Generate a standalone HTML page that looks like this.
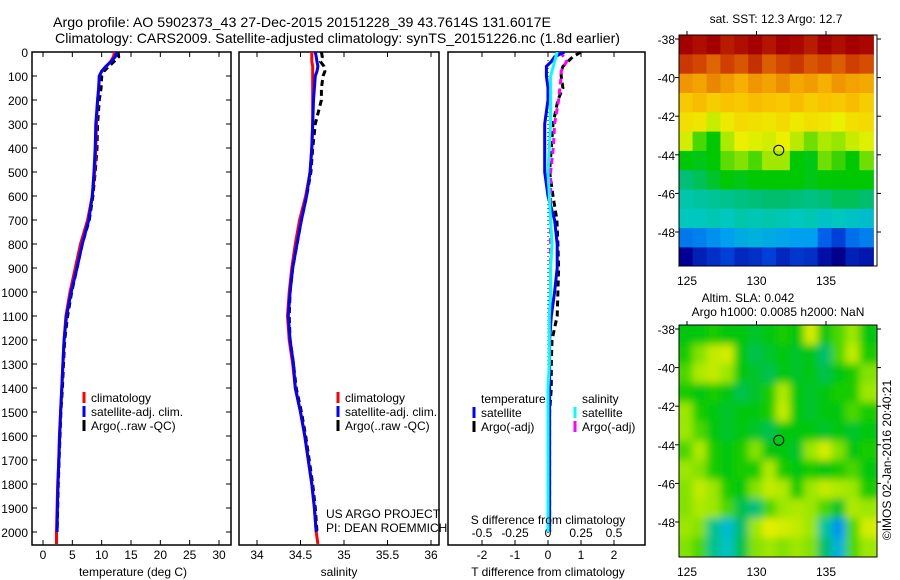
<!DOCTYPE html>
<html><head><meta charset="utf-8"><style>
html,body{margin:0;padding:0;background:#fff;width:900px;height:580px;overflow:hidden}
svg{display:block;font-family:"Liberation Sans",sans-serif}
</style></head><body>
<svg id="fig" xmlns="http://www.w3.org/2000/svg" width="900" height="580" viewBox="0 0 900 580">
<defs>
<filter id="blur" x="-5%" y="-5%" width="110%" height="110%"><feGaussianBlur stdDeviation="4"/></filter>
<clipPath id="slaclip"><rect x="679" y="325" width="198" height="232"/></clipPath>
</defs>
<text x="53" y="27" font-size="14" textLength="498" lengthAdjust="spacingAndGlyphs">Argo profile: AO 5902373_43 27-Dec-2015 20151228_39 43.7614S 131.6017E</text>
<text x="55" y="43" font-size="14" textLength="565" lengthAdjust="spacingAndGlyphs">Climatology: CARS2009. Satellite-adjusted climatology: synTS_20151226.nc (1.8d earlier)</text>
<g id="g"></g>
</svg>
<script>
// ---------- data ----------
const depths = [0,20,40,60,80,100,150,200,300,400,500,600,700,800,900,1000,1100,1200,1300,1400,1500,1600,1700,1800,1900,2000,2050];
const tempClim = [12.2,12.0,11.5,10.8,10.0,9.6,9.5,9.3,9.1,9.0,8.8,8.4,7.6,6.4,5.5,4.6,3.9,3.6,3.4,3.2,3.0,2.8,2.7,2.5,2.4,2.3,2.3];
const tempSat  = [12.6,12.3,11.6,10.7,10.0,9.6,9.5,9.3,9.0,8.9,8.7,8.4,7.8,6.7,5.8,4.8,4.0,3.6,3.4,3.2,3.0,2.85,2.7,2.55,2.45,2.4,null];
const tempArgo = [12.8,12.9,12.1,11.2,10.4,10.0,9.9,9.6,9.3,9.2,8.9,8.5,7.9,6.7,5.8,4.9,4.2,3.7,3.5,3.3,3.05,2.9,2.75,2.6,2.5,2.4,null];
const salClim = [34.63,34.63,34.63,34.64,34.64,34.64,34.64,34.64,34.64,34.63,34.61,34.56,34.49,34.44,34.40,34.37,34.35,34.37,34.41,34.44,34.50,34.55,34.59,34.63,34.66,34.68,34.70];
const salSat  = [34.67,34.68,34.69,34.70,34.69,34.67,34.66,34.65,34.64,34.63,34.61,34.57,34.51,34.46,34.41,34.38,34.36,34.38,34.42,34.44,34.50,34.55,34.59,34.63,34.66,34.68,null];
const salArgo = [34.74,34.75,34.73,34.77,34.78,34.76,34.74,34.74,34.67,34.64,34.62,34.57,34.51,34.46,34.41,34.38,34.37,34.38,34.42,34.45,34.51,34.56,34.60,34.64,34.67,34.69,null];
const dTsat  = [0.5,0.2,0.1,-0.05,-0.05,-0.05,0,0,-0.1,-0.1,-0.1,0,0.2,0.28,0.28,0.2,0.1,0.05,0.05,0.05,0.05,0.05,0.05,0.05,0.05,0.05,null];
const dTargo = [1.0,0.75,0.6,0.45,0.4,0.4,0.45,0.3,0.15,0.1,0.05,0.15,0.27,0.3,0.32,0.3,0.28,0.12,0.1,0.1,0.05,0.05,0.05,0.05,0.05,0.05,null];
const dSsat  = [0.07,0.06,0.05,0.04,0.03,0.02,0.02,0.02,0.02,0.01,0.0,0.01,0.02,0.03,0.02,0.02,0.01,0.01,0.01,0.0,0.0,0.0,0.0,0.0,0.0,0.0,null];
const dSargo = [0.09,0.12,0.14,0.12,0.1,0.1,0.09,0.08,0.05,0.04,0.02,0.02,0.02,0.02,0.02,0.02,0.01,0.01,0.01,0.01,0.01,0.01,0.01,0.01,0.01,0.01,null];
const depthTicks = [0,100,200,300,400,500,600,700,800,900,1000,1100,1200,1300,1400,1500,1600,1700,1800,1900,2000];
const tempTicks = [0,5,10,15,20,25,30];
const salTicks = [34,34.5,35,35.5,36];
const salTickLabels = ["34","34.5","35","35.5","36"];
const dTTicks = [-2,-1,0,1,2];
const dSTickLabels = ["-0.5","-0.25","0","0.25","0.5"];
const lonTicks = [125,130,135];
const latTicks = [-38,-40,-42,-44,-46,-48];
const argoLon = 131.6017, argoLat = -43.7614;
const mapLons = [124.4,125.4,126.4,127.4,128.4,129.4,130.4,131.4,132.4,133.4,134.4,135.4,136.4,137.4]; // cell west edges
const mapLats = [-37.8,-38.8,-39.8,-40.8,-41.8,-42.8,-43.8,-44.8,-45.8,-46.8,-47.8,-48.8]; // cell north edges
const sst = [
 [16,15.8,16,15.6,15.8,16,15.7,16,15.9,15.6,16,15.8,16,15.9],
 [15.2,15,14.6,15.1,14.8,15.3,14.7,15,15.2,14.8,15,14.7,15.1,14.9],
 [14,13.8,14.2,13.9,13.6,14,13.8,14.1,13.7,13.9,13.6,14,13.8,13.7],
 [13.2,13.4,13.1,13.3,13.2,13.4,13.3,13.2,13.4,13.1,13.3,13.2,13.4,13.1],
 [12.8,12.7,12.2,12.6,12.9,12.8,12.7,12.9,12.6,12.8,12.7,12.5,12.8,12.9],
 [12.3,11.4,11.0,12.0,12.5,12.4,12.3,12.5,12.1,11.6,12.0,11.8,12.2,12.4],
 [11.0,10.9,11.0,11.5,11.7,11.4,11.9,11.9,11.0,10.9,11.6,11.3,11.0,11.6],
 [10.4,10.6,10.8,11.0,10.9,11.0,11.0,11.0,11.0,10.9,11.0,11.0,11.0,11.0],
 [9.9,10.0,10.1,10.2,10.3,10.4,10.5,10.5,10.4,10.3,10.4,10.6,10.6,10.5],
 [9.7,9.7,9.8,9.7,9.9,9.8,9.9,9.8,9.7,9.8,9.6,9.7,9.6,9.5],
 [8.5,8.6,8.8,9.0,9.2,9.3,9.2,9.1,9.0,9.0,8.2,7.8,8.4,8.6],
 [7.0,7.4,7.6,7.8,7.5,7.6,7.8,7.5,7.7,7.6,7.2,6.8,7.4,7.3]];
const sla = [
 [-0.03,-0.03,-0.02,-0.03,-0.03,-0.04,-0.03,-0.02,-0.03,0.06,-0.03,0.0,0.03,-0.03],
 [-0.02,0.02,0.05,0.06,-0.03,-0.05,-0.04,-0.03,-0.04,-0.03,-0.06,0.0,0.05,-0.02],
 [0.0,0.04,0.05,0.03,-0.03,-0.04,-0.05,-0.03,-0.04,-0.03,-0.05,-0.03,-0.02,0.02],
 [-0.02,-0.03,-0.02,-0.03,-0.05,-0.04,-0.02,0.04,-0.03,-0.04,-0.03,-0.02,-0.02,0.03],
 [0.03,-0.02,-0.03,-0.04,-0.03,-0.03,-0.02,0.05,-0.03,-0.04,-0.03,-0.03,0.0,-0.02],
 [0.03,0.0,-0.03,-0.04,-0.03,-0.04,-0.05,-0.03,-0.03,-0.03,-0.04,-0.03,-0.04,-0.03],
 [0.0,0.04,-0.02,-0.03,-0.02,0.02,-0.03,-0.03,-0.04,0.03,0.06,0.02,-0.03,-0.02],
 [0.03,0.02,-0.02,-0.03,-0.02,-0.02,0.04,-0.02,-0.03,-0.02,-0.03,-0.02,0.0,-0.03],
 [0.02,0.05,0.03,-0.02,-0.03,0.02,0.05,0.04,-0.02,0.03,0.05,0.04,0.03,-0.02],
 [0.02,0.04,0.03,0.0,-0.05,-0.07,0.0,0.03,0.04,0.03,0.0,-0.04,0.04,0.03],
 [0.03,0.02,-0.08,-0.13,-0.06,0.03,0.07,0.06,0.05,0.03,-0.09,-0.17,0.0,0.06],
 [0.02,0.0,-0.08,-0.12,-0.05,0.02,0.03,0.02,0.03,0.02,-0.06,-0.14,0.0,0.03]];

// ---------- helpers ----------
const NS="http://www.w3.org/2000/svg";
const G=document.getElementById('g');
function mk(tag,attrs,parent,txt){const e=document.createElementNS(NS,tag);for(const k in attrs)e.setAttribute(k,attrs[k]);if(txt!==undefined)e.textContent=txt;(parent||G).appendChild(e);return e;}
const yTop=52, yBot=545;
const yD = d => yTop + d*0.24;
function linScale(v0,p0,v1,p1){return v=>p0+(v-v0)*(p1-p0)/(v1-v0);}
const xT = linScale(0,43,30,219);
const xS = linScale(34,257,36,431);
const xdT = linScale(0,548,2,614);
const xdS = linScale(0,548,0.5,614);

function profile(vals,xs,color,dash,name,clipId){
  let d="";let started=false;
  for(let i=0;i<depths.length;i++){
    if(vals[i]===null)continue;
    d+=(started?"L":"M")+xs(vals[i]).toFixed(1)+" "+yD(depths[i]).toFixed(1)+" ";started=true;
  }
  const p=mk('path',{d:d,fill:'none',stroke:color,'stroke-width':3,'clip-path':'url(#'+clipId+')'});
  if(dash)p.setAttribute('stroke-dasharray',dash);
  
  
}
function panel(x0,x1,clipId,name){
  const defs=mk('defs',{});
  const cp=mk('clipPath',{id:clipId},defs);
  mk('rect',{x:x0,y:yTop,width:x1-x0,height:yBot-yTop},cp);
  const r=mk('rect',{x:x0,y:yTop,width:x1-x0,height:yBot-yTop,fill:'none',stroke:'#000','stroke-width':1.5});
  
  
}
function txt(x,y,s,size,anchor,name,parent){
  const t=mk('text',{x:x,y:y,'font-size':size||12,'text-anchor':anchor||'start'},parent||G,s);
  
  
  return t;
}
function legendEntry(x,y,color,label,name){
  mk('line',{x1:x,y1:y-10,x2:x,y2:y+1,stroke:color,'stroke-width':3});
  txt(x+7,y,label,12,'start',name);
}

// ---------- panel 1: temperature ----------
panel(32,231,'c1','temperature-panel');
for(const d of depthTicks){
  mk('line',{x1:32,y1:yD(d),x2:37,y2:yD(d),stroke:'#000'});
  mk('line',{x1:226,y1:yD(d),x2:231,y2:yD(d),stroke:'#000'});
  txt(28,yD(d)+5,String(d),12,'end','depth-tick-label');
}
for(const t of tempTicks){
  mk('line',{x1:xT(t),y1:yTop,x2:xT(t),y2:yTop+5,stroke:'#000'});
  mk('line',{x1:xT(t),y1:yBot,x2:xT(t),y2:yBot-5,stroke:'#000'});
  txt(xT(t),559,String(t),12,'middle','temperature-tick-label');
}
txt(133,576,'temperature (deg C)',12,'middle','temperature-axis-title');
profile(tempArgo,xT,'#000','6 4','temp-argo-line','c1');
profile(tempClim,xT,'#f00',null,'temp-climatology-line','c1');
profile(tempSat,xT,'#0000ff',null,'temp-satellite-line','c1');
legendEntry(84,402,'#f00','climatology','legend-climatology');
legendEntry(84,416,'#0000ff','satellite-adj. clim.','legend-satellite');
legendEntry(84,430,'#000','Argo(..raw -QC)','legend-argo');

// ---------- panel 2: salinity ----------
panel(239,439,'c2','salinity-panel');
for(let i=0;i<salTicks.length;i++){
  const s=salTicks[i];
  mk('line',{x1:xS(s),y1:yTop,x2:xS(s),y2:yTop+5,stroke:'#000'});
  mk('line',{x1:xS(s),y1:yBot,x2:xS(s),y2:yBot-5,stroke:'#000'});
  txt(xS(s),559,salTickLabels[i],12,'middle','salinity-tick-label');
}
txt(339,576,'salinity',12,'middle','salinity-axis-title');
profile(salArgo,xS,'#000','6 4','sal-argo-line','c2');
profile(salClim,xS,'#f00',null,'sal-climatology-line','c2');
profile(salSat,xS,'#0000ff',null,'sal-satellite-line','c2');
legendEntry(338,402,'#f00','climatology','legend-climatology-2');
legendEntry(338,416,'#0000ff','satellite-adj. clim.','legend-satellite-2');
legendEntry(338,430,'#000','Argo(..raw -QC)','legend-argo-2');
txt(326,518,'US ARGO PROJECT',12,'start','credit-project');
txt(326,532,'PI: DEAN ROEMMICH',12,'start','credit-pi');

// ---------- panel 3: differences ----------
panel(448,645,'c3','difference-panel');
mk('line',{x1:xdT(0),y1:yTop,x2:xdT(0),y2:yBot,stroke:'#000','stroke-dasharray':'1 3'});
for(let i=0;i<dTTicks.length;i++){
  const v=dTTicks[i];
  mk('line',{x1:xdT(v),y1:yTop,x2:xdT(v),y2:yTop+5,stroke:'#000'});
  mk('line',{x1:xdT(v),y1:yBot,x2:xdT(v),y2:yBot-5,stroke:'#000'});
  txt(xdT(v),559,String(v),12,'middle','t-diff-tick-label');
  txt(xdT(v),537,dSTickLabels[i],12,'middle','s-diff-tick-label');
}
txt(548,576,'T difference from climatology',12,'middle','t-diff-axis-title');
profile(dTargo,xdT,'#000','6 4','dt-argo-line','c3');
profile(dSargo,xdS,'#ff00ff','6 4','ds-argo-line','c3');
profile(dTsat,xdT,'#0000ff',null,'dt-satellite-line','c3');
profile(dSsat,xdS,'#00ffff',null,'ds-satellite-line','c3');
txt(548,524,'S difference from climatology',12,'middle','s-diff-axis-title');
txt(481,403,'temperature',12,'start','legend-temperature-heading');
txt(582,403,'salinity',12,'start','legend-salinity-heading');
legendEntry(474,417,'#0000ff','satellite','legend-t-satellite');
legendEntry(474,431,'#000','Argo(-adj)','legend-t-argo');
legendEntry(575,417,'#00ffff','satellite','legend-s-satellite');
legendEntry(575,431,'#ff00ff','Argo(-adj)','legend-s-argo');

// ---------- maps ----------
const cmapT = [6.5,7,8,9,9.7,10.5,11,11.8,12.5,13.3,14,15,16];
const cmapC = [[0,0,120],[0,0,150],[0,80,230],[0,160,240],[0,200,190],[0,190,110],[0,200,0],[150,230,0],[235,240,0],[250,195,0],[240,150,0],[210,70,0],[165,0,0]];
function cmap(v){
  if(v<=cmapT[0])return 'rgb('+cmapC[0].join(',')+')';
  for(let i=1;i<cmapT.length;i++){
    if(v<=cmapT[i]){const f=(v-cmapT[i-1])/(cmapT[i]-cmapT[i-1]);
      const c=cmapC[i-1].map((a,k)=>Math.round(a+(cmapC[i][k]-a)*f));return 'rgb('+c.join(',')+')';}
  }
  return 'rgb('+cmapC[cmapC.length-1].join(',')+')';
}
function map(y0,y1,vals,norm,name,cellName,blur){
  const x0=679,x1=877;
  const xL=linScale(125,687,135,826);
  const yL=linScale(-38,y0+4,-48,y0+197);
  const outer=mk('g',{});
  if(blur)outer.setAttribute('clip-path','url(#slaclip)');
  const grp=mk('g',{},outer);
  if(blur)grp.setAttribute('filter','url(#blur)');
  for(let r=0;r<mapLats.length;r++)for(let c=0;c<mapLons.length;c++){
    const cx=xL(mapLons[c]), cy=yL(mapLats[r]);
    let w=xL(mapLons[c]+1)-cx+0.6, h=yL(mapLats[r]-1)-cy+0.6;
    let ex=cx, ey=cy;
    if(blur){ if(c===0){ex-=8;w+=8;} if(c===mapLons.length-1)w+=8; if(r===0){ey-=8;h+=8;} if(r===mapLats.length-1)h+=8; }
    const cell=mk('rect',{x:ex.toFixed(1),y:ey.toFixed(1),width:w.toFixed(1),height:h.toFixed(1),fill:cmap(norm(vals[r][c]))},grp);
    
    
  }
  if(!blur)mk('rect',{x:x0,y:y1,width:x1-x0,height:10,fill:'#fff'});
  const fr=mk('rect',{x:x0,y:y0,width:x1-x0,height:y1-y0,fill:'none',stroke:'#000','stroke-width':1});
  
  
  for(const lo of lonTicks){
    mk('line',{x1:xL(lo),y1:y0,x2:xL(lo),y2:y0-4,stroke:'#000'});
    txt(xL(lo),y1+19,String(lo),12,'middle','lon-tick-label');
  }
  for(const la of latTicks){
    mk('line',{x1:x0,y1:yL(la),x2:x0-4,y2:yL(la),stroke:'#000'});
    mk('line',{x1:x1,y1:yL(la),x2:x1+4,y2:yL(la),stroke:'#000'});
    txt(x0-4,yL(la)+5,String(la),12,'end','lat-tick-label');
  }
  const m=mk('circle',{cx:xL(argoLon),cy:yL(argoLat),r:5,fill:'none',stroke:'#000','stroke-width':1});
  
  
}
map(35,266,sst,v=>v,'sst-map','sst-cell',false);
map(325,557,sla,v=>11.4+v*15,'sla-map','sla-cell',true);
txt(776,23,'sat. SST: 12.3  Argo: 12.7',12,'middle','sst-map-title');
txt(748,302,'Altim. SLA: 0.042',12,'middle','sla-map-title');
txt(778,316,'Argo h1000: 0.0085 h2000: NaN',12,'middle','sla-map-subtitle');
const c=txt(0,0,'©IMOS 02-Jan-2016 20:40:21',12,'middle','imos-credit');
c.setAttribute('transform','translate(891,460) rotate(-90)');
</script>
</body></html>
